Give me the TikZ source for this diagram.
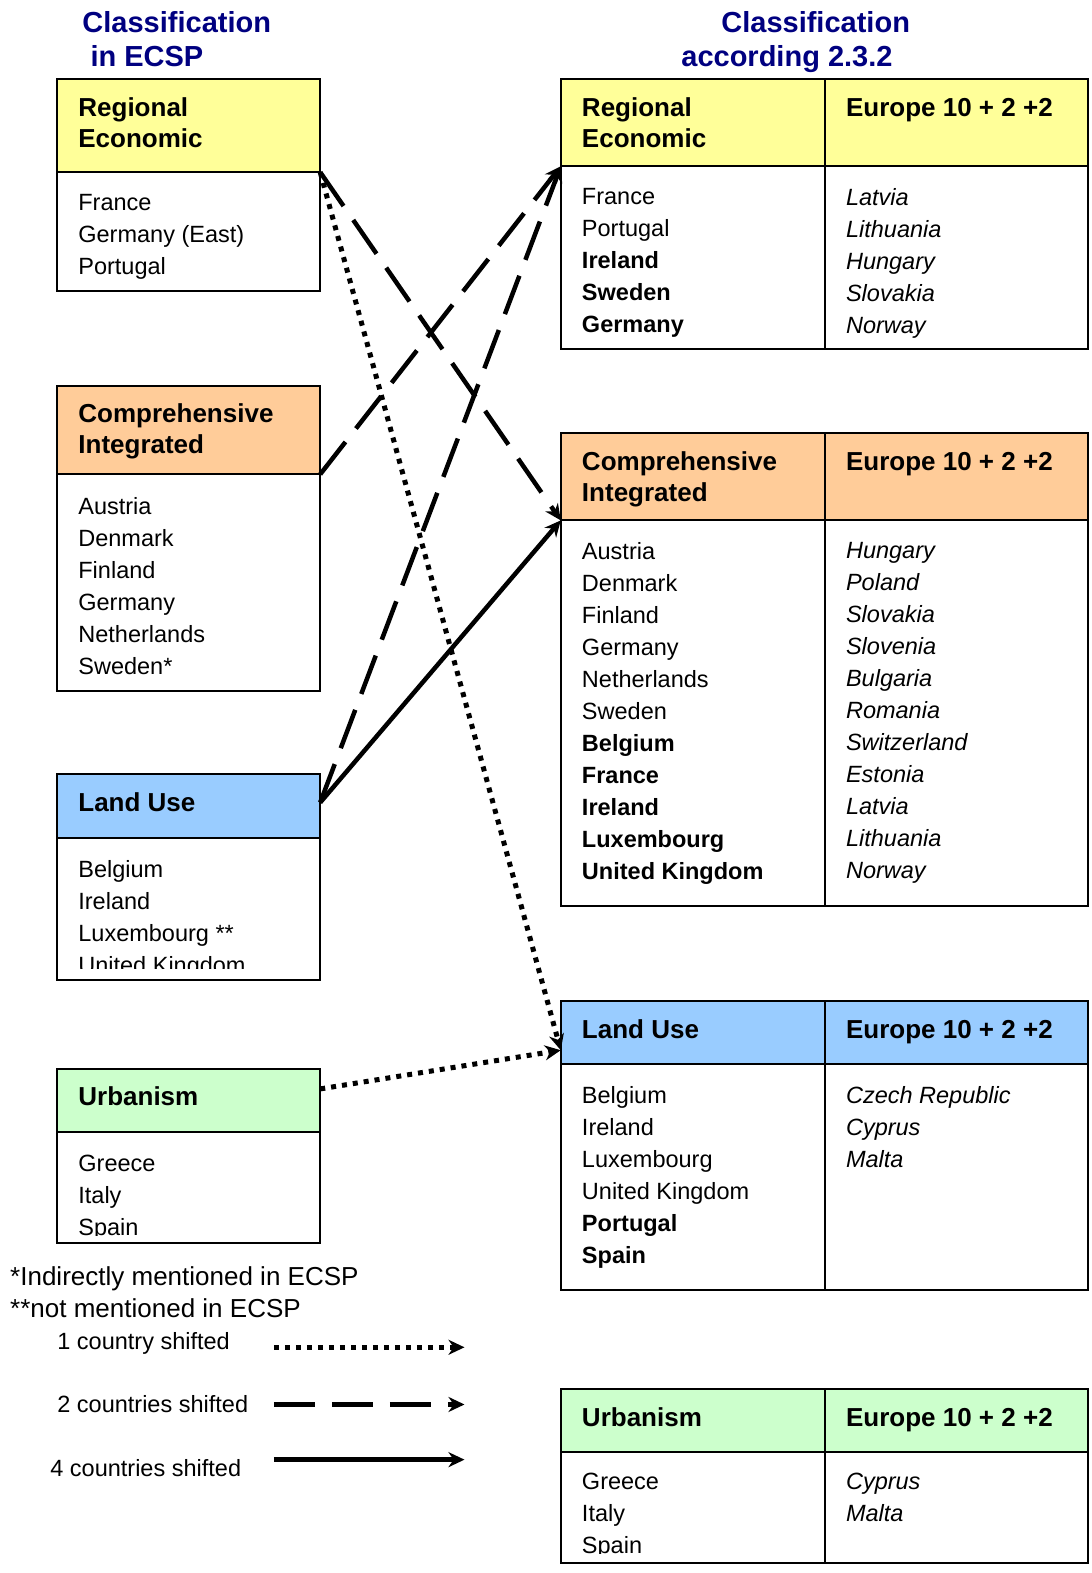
\documentclass[tikz,border=0pt]{standalone}
\usepackage{fontspec}
\setmainfont{Liberation Sans}
\usetikzlibrary{arrows.meta, positioning}

\definecolor{hdyellow}{RGB}{255,255,153}
\definecolor{hdorange}{RGB}{255,204,153}
\definecolor{hdblue}{RGB}{153,204,255}
\definecolor{hdgreen}{RGB}{204,255,204}
\definecolor{ttlblue}{RGB}{0,0,128}

\tikzset{
  cell/.style={draw, line width=2pt, inner sep=0pt, outer sep=0pt, anchor=north west},
  lcol/.style={minimum width=263pt},
  rcol/.style={minimum width=264pt},
  ecol/.style={minimum width=263pt},
  hdtext/.style={inner sep=0pt, align=left, anchor=north west,
    font=\fontsize{26}{31}\selectfont\bfseries, execute at begin node=\strut},
  lsttext/.style={inner sep=0pt, align=left, anchor=north west,
    font=\fontsize{23.5}{32}\selectfont, execute at begin node=\strut},
  lstital/.style={lsttext, font=\fontsize{23.5}{32}\selectfont\itshape},
  ttltext/.style={inner sep=0pt, align=left, anchor=north west, text=ttlblue,
    font=\fontsize{29}{34}\selectfont\bfseries, execute at begin node=\strut},
  fntext/.style={inner sep=0pt, align=left, anchor=north west,
    font=\fontsize{26}{32}\selectfont, execute at begin node=\strut},
  legtext/.style={inner sep=0pt, anchor=base west, font=\fontsize{23.5}{28}\selectfont},
  shift1/.style={line width=5pt, dash pattern=on 5pt off 6pt,
    -{Stealth[length=16pt, width=15pt]}},
  shift2/.style={line width=4.5pt, dash pattern=on 41pt off 17pt,
    -{Stealth[length=16pt, width=15pt]}},
  shift4/.style={line width=4.5pt, -{Stealth[length=16pt, width=15pt]}},
}

\begin{document}
\begin{tikzpicture}[x=1.003pt, y=-1.003pt]
  \useasboundingbox (0,0) rectangle (1088,1568);

  % Titles
  \node[ttltext] (ttll) at (82,11.6) {Classification\\\mbox{} in ECSP};
  \node[ttltext] (ttlr) at (679,11.6) {\hspace*{40pt}Classification\\according 2.3.2};

  % ECSP side
  \node[cell, lcol, fill=hdyellow, minimum height=93pt] (lre) at (57,79) {};
  \node[cell, lcol, minimum height=119pt, below=0pt of lre] (lreb) {};
  \node[hdtext, below right=18pt and 21pt of lre.north west] (lret) {Regional\\Economic};
  \node[lsttext, below right=22pt and 21pt of lreb.north west] (lrebt) {France\\Germany (East)\\Portugal};

  \node[cell, lcol, fill=hdorange, minimum height=88pt] (lci) at (57,385) {};
  \node[cell, lcol, minimum height=217pt, below=0pt of lci] (lcib) {};
  \node[hdtext, below right=17pt and 21pt of lci.north west] (lcit) {Comprehensive\\Integrated};
  \node[lsttext, below right=23pt and 21pt of lcib.north west] (lcibt) {Austria\\Denmark\\Finland\\Germany\\Netherlands\\Sweden*};

  \node[cell, lcol, fill=hdblue, minimum height=64pt] (llu) at (57,772) {};
  \node[cell, lcol, minimum height=141pt, below=0pt of llu] (llub) {};
  \node[hdtext, below right=15pt and 21pt of llu.north west] (llut) {Land Use};
  \begin{scope}
    \clip (llub.north west) rectangle ([yshift=11pt]llub.south east);
    \node[lsttext, below right=22pt and 21pt of llub.north west] (llubt) {Belgium\\Ireland\\Luxembourg **\\United Kingdom};
  \end{scope}

  \node[cell, lcol, fill=hdgreen, minimum height=63pt] (lur) at (57,1066) {};
  \node[cell, lcol, minimum height=111pt, below=0pt of lur] (lurb) {};
  \node[hdtext, below right=14pt and 21pt of lur.north west] (lurt) {Urbanism};
  \begin{scope}
    \clip (lurb.north west) rectangle ([yshift=8pt]lurb.south east);
    \node[lsttext, below right=22pt and 21pt of lurb.north west] (lurbt) {Greece\\Italy\\Spain};
  \end{scope}

  % 2.3.2 side
  \node[cell, rcol, fill=hdyellow, minimum height=87pt] (rre) at (559,79) {};
  \node[cell, ecol, fill=hdyellow, minimum height=87pt, right=0pt of rre] (rreE) {};
  \node[cell, rcol, minimum height=183pt, below=0pt of rre] (rreb) {};
  \node[cell, ecol, minimum height=183pt, below=0pt of rreE] (rreEb) {};
  \node[hdtext, below right=18pt and 21pt of rre.north west] (rret) {Regional\\Economic};
  \node[hdtext, below right=15pt and 21pt of rreE.north west] (rreEt) {Europe 10 + 2 +2};
  \node[lsttext, below right=22pt and 21pt of rreb.north west] (rrebt) {France\\Portugal\\\textbf{Ireland}\\\textbf{Sweden}\\\textbf{Germany}};
  \node[lstital, below right=22pt and 21pt of rreEb.north west] (rreEbt) {Latvia\\Lithuania\\Hungary\\Slovakia\\Norway};

  \node[cell, rcol, fill=hdorange, minimum height=87pt] (rci) at (559,432) {};
  \node[cell, ecol, fill=hdorange, minimum height=87pt, right=0pt of rci] (rciE) {};
  \node[cell, rcol, minimum height=386pt, below=0pt of rci] (rcib) {};
  \node[cell, ecol, minimum height=386pt, below=0pt of rciE] (rciEb) {};
  \node[hdtext, below right=18pt and 21pt of rci.north west] (rcit) {Comprehensive\\Integrated};
  \node[hdtext, below right=15pt and 21pt of rciE.north west] (rciEt) {Europe 10 + 2 +2};
  \node[lsttext, below right=22pt and 21pt of rcib.north west] (rcibt) {Austria\\Denmark\\Finland\\Germany\\Netherlands\\Sweden\\\textbf{Belgium}\\\textbf{France}\\\textbf{Ireland}\\\textbf{Luxembourg}\\\textbf{United Kingdom}};
  \node[lstital, below right=22pt and 21pt of rciEb.north west] (rciEbt) {Hungary\\Poland\\Slovakia\\Slovenia\\Bulgaria\\Romania\\Switzerland\\Estonia\\Latvia\\Lithuania\\Norway};

  \node[cell, rcol, fill=hdblue, minimum height=63pt] (rlu) at (559,998) {};
  \node[cell, ecol, fill=hdblue, minimum height=63pt, right=0pt of rlu] (rluE) {};
  \node[cell, rcol, minimum height=226pt, below=0pt of rlu] (rlub) {};
  \node[cell, ecol, minimum height=226pt, below=0pt of rluE] (rluEb) {};
  \node[hdtext, below right=15pt and 21pt of rlu.north west] (rlut) {Land Use};
  \node[hdtext, below right=15pt and 21pt of rluE.north west] (rluEt) {Europe 10 + 2 +2};
  \node[lsttext, below right=22pt and 21pt of rlub.north west] (rlubt) {Belgium\\Ireland\\Luxembourg\\United Kingdom\\\textbf{Portugal}\\\textbf{Spain}};
  \node[lstital, below right=22pt and 21pt of rluEb.north west] (rluEbt) {Czech Republic\\Cyprus\\Malta};

  \node[cell, rcol, fill=hdgreen, minimum height=63pt] (rur) at (559,1385) {};
  \node[cell, ecol, fill=hdgreen, minimum height=63pt, right=0pt of rur] (rurE) {};
  \node[cell, rcol, minimum height=111pt, below=0pt of rur] (rurb) {};
  \node[cell, ecol, minimum height=111pt, below=0pt of rurE] (rurEb) {};
  \node[hdtext, below right=15pt and 21pt of rur.north west] (rurt) {Urbanism};
  \node[hdtext, below right=15pt and 21pt of rurE.north west] (rurEt) {Europe 10 + 2 +2};
  \begin{scope}
    \clip (rurb.north west) rectangle ([yshift=10pt]rurb.south east);
    \node[lsttext, below right=20pt and 21pt of rurb.north west] (rurbt) {Greece\\Italy\\Spain};
  \end{scope}
  \node[lstital, below right=20pt and 21pt of rurEb.north west] (rurEbt) {Cyprus\\Malta};

  % Shifts
  \draw[shift2] (lre.south east) -- (rci.south west);
  \draw[shift1] (lre.south east) -- ([yshift=14pt]rlu.south west);
  \draw[shift2] (lci.south east) -- (rre.south west);
  \draw[shift2] ([yshift=4pt]llu.east) -- (rre.south west);
  \draw[shift4] ([yshift=4pt]llu.east) -- (rci.south west);
  \draw[shift1] ([yshift=12pt]lur.east) -- ([yshift=14pt]rlu.south west);

  % Footnotes and legend
  \node[fntext] (fnote) at (10,1262) {*Indirectly mentioned in ECSP\\**not mentioned in ECSP};

  \node[legtext] (lg1) at (57,1345) {1 country shifted};
  \node[legtext] (lg2) at (57,1408) {2 countries shifted};
  \node[legtext] (lg4) at (50,1472) {4 countries shifted};
  \coordinate (lg1a) at (273,1343);
  \coordinate (lg1b) at (463,1343);
  \coordinate (lg2a) at (273,1400);
  \coordinate (lg2b) at (463,1400);
  \coordinate (lg4a) at (273,1455);
  \coordinate (lg4b) at (463,1455);
  \draw[shift1] (lg1a) -- (lg1b);
  \draw[shift2] (lg2a) -- (lg2b);
  \draw[shift4] (lg4a) -- (lg4b);
\end{tikzpicture}
\end{document}
